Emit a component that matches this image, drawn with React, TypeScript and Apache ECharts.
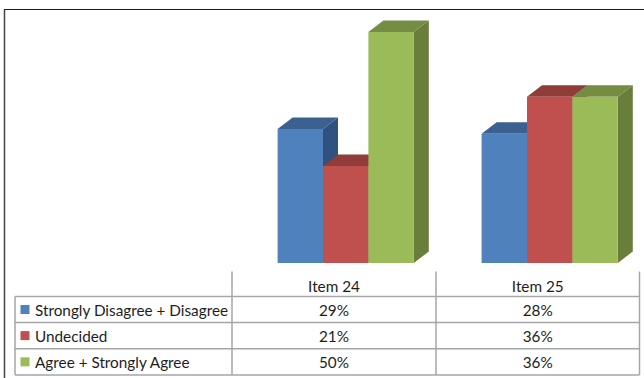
import React, { useEffect, useRef } from "react";
import * as echarts from "echarts";

const categories = ["Item 24", "Item 25"];
const seriesNames = ["Strongly Disagree + Disagree", "Undecided", "Agree + Strongly Agree"];
const disagreeValues = [29, 28];
const undecidedValues = [21, 36];
const agreeValues = [50, 36];
const seriesValues = [disagreeValues, undecidedValues, agreeValues];

const frontColors = ["#4F81BD", "#C0504D", "#9BBB59"];
const topColors = ["#3A6190", "#903C39", "#748D43"];
const sideColors = ["#2F5281", "#7E3330", "#687E3A"];

const FONT = "Lato";
const W = 644;
const H = 378;
const DEPTH_X = 15;
const DEPTH_Y = 11.5;
const BAR_W = 45.4;
const GROUP_SHIFT = 11.7;
const LINE = "#A6A6A6";

const ROW_Y = [296.5, 322.5, 348.7, 375];
const COL_X = [15, 232, 436, 639.5];

function tableGraphics() {
  const els: any[] = [];
  const line = (x1: number, y1: number, x2: number, y2: number) =>
    els.push({
      type: "line",
      silent: true,
      shape: { x1, y1, x2, y2 },
      style: { stroke: LINE, lineWidth: 1.5 },
    });
  ROW_Y.forEach((y) => line(COL_X[0], y, COL_X[3], y));
  line(COL_X[0], ROW_Y[0], COL_X[0], ROW_Y[3]);
  COL_X.slice(1).forEach((x) => line(x, 271.5, x, ROW_Y[3]));

  const text = (x: number, y: number, t: string, align: string) =>
    els.push({
      type: "text",
      silent: true,
      x,
      y,
      style: { text: t, fontFamily: FONT, fontSize: 15.3, fill: "#1E1E1E", align, verticalAlign: "middle" },
    });

  categories.forEach((c, i) => text((COL_X[i + 1] + COL_X[i + 2]) / 2, 286, c, "center"));
  seriesNames.forEach((name, r) => {
    const cy = (ROW_Y[r] + ROW_Y[r + 1]) / 2;
    els.push({
      type: "rect",
      silent: true,
      shape: { x: 20.5, y: cy - 4.5, width: 9, height: 9 },
      style: { fill: frontColors[r] },
    });
    text(35, cy, name, "left");
    seriesValues[r].forEach((v, c) => text((COL_X[c + 1] + COL_X[c + 2]) / 2, cy, `${v}%`, "center"));
  });

  // Outer frame edges: a dark top rule and a softer left rule
  els.push({ type: "line", silent: true, shape: { x1: 4, y1: 9.5, x2: W, y2: 9.5 }, style: { stroke: "#1A1A1A", lineWidth: 1.2 } });
  els.push({ type: "line", silent: true, shape: { x1: 4.5, y1: 9.5, x2: 4.5, y2: H }, style: { stroke: "#444444", lineWidth: 1.5 } });
  return els;
}

export default function App() {
  const ref = useRef<HTMLDivElement>(null);
  useEffect(() => {
    document.body.style.margin = "0";
    const chart = echarts.init(ref.current!, undefined, { renderer: "svg" });
    const series = seriesNames.map((name, s) => ({
      type: "custom",
      name,
      silent: true,
      z: 2 + s,
      data: seriesValues[s].map((v, c) => [c, v]),
      encode: { x: 0, y: 1 },
      renderItem: (_: any, api: any) => {
        const top = api.coord([api.value(0), api.value(1)]);
        const base = api.coord([api.value(0), 0]);
        const x0 = top[0] + GROUP_SHIFT + (s - 1.5) * BAR_W;
        const x1 = x0 + BAR_W;
        const pts = (p: number[][], fill: string) => ({
          type: "polygon",
          shape: { points: p },
          style: { fill },
        });
        return {
          type: "group",
          children: [
            pts(
              [
                [x1, base[1]],
                [x1 + DEPTH_X, base[1] - DEPTH_Y],
                [x1 + DEPTH_X, top[1] - DEPTH_Y],
                [x1, top[1]],
              ],
              sideColors[s],
            ),
            pts(
              [
                [x0, top[1]],
                [x0 + DEPTH_X, top[1] - DEPTH_Y],
                [x1 + DEPTH_X, top[1] - DEPTH_Y],
                [x1, top[1]],
              ],
              topColors[s],
            ),
            {
              type: "rect",
              shape: { x: x0, y: top[1], width: BAR_W, height: base[1] - top[1] },
              style: { fill: frontColors[s] },
            },
          ],
        };
      },
    }));
    chart.setOption({
      animation: false,
      backgroundColor: "#FFFFFF",
      grid: { left: COL_X[1], width: 408, top: 32, height: 231 },
      xAxis: { type: "category", data: categories, show: false },
      yAxis: { type: "value", min: 0, max: 50, show: false },
      series,
      graphic: { elements: tableGraphics() },
    });
    return () => chart.dispose();
  }, []);
  return <div ref={ref} style={{ position: "absolute", left: 0, top: 0, width: W, height: H }} />;
}
